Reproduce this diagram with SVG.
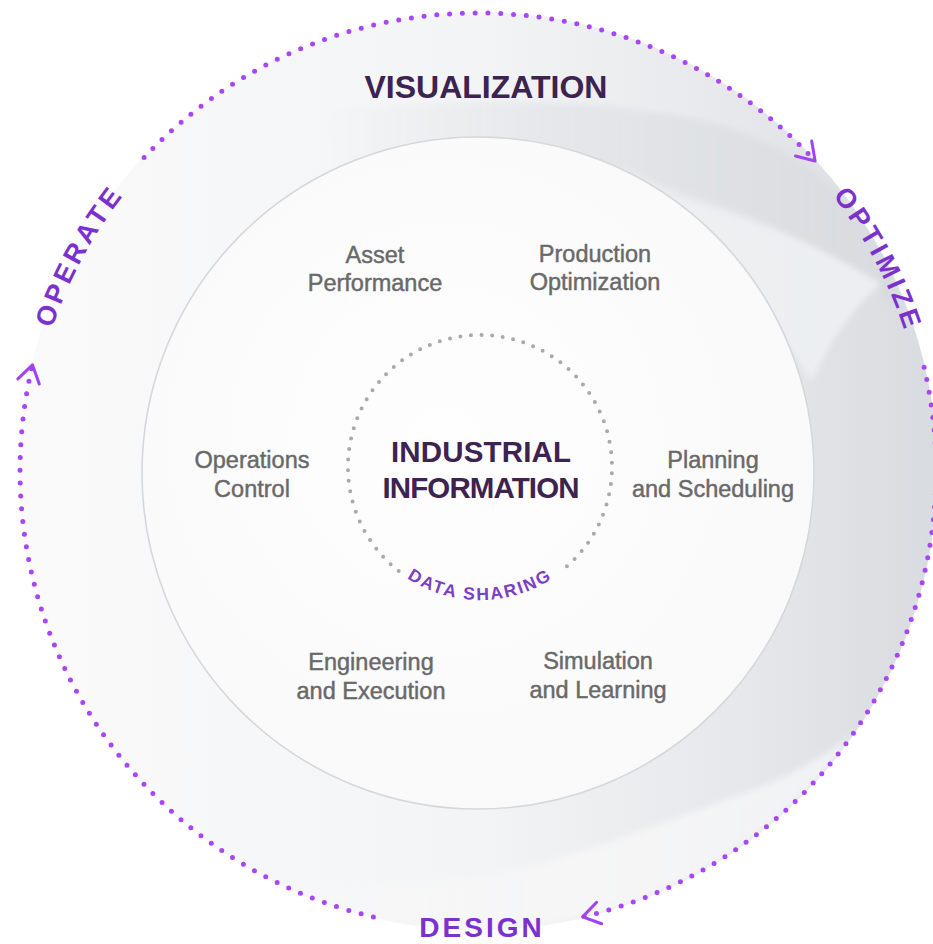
<svg xmlns="http://www.w3.org/2000/svg" width="933" height="944" viewBox="0 0 933 944">
<style>
  .lbl { font-family: "Liberation Sans", Arial, sans-serif; font-size: 23.5px; fill: #696969; stroke: #696969; stroke-width: 0.45px; text-anchor: middle; }
  .head { font-family: "Liberation Sans", Arial, sans-serif; font-weight: bold; fill: #3c2350; text-anchor: middle; }
  .stage { font-family: "Liberation Sans", Arial, sans-serif; font-weight: bold; font-size: 27px; letter-spacing: 3.6px; fill: #7b31cc; }
  .share { font-family: "Liberation Sans", Arial, sans-serif; font-weight: bold; font-size: 17.5px; letter-spacing: 2px; fill: #7b3fc4; }
  .cycle { fill: none; stroke: #a845f7; stroke-width: 5; stroke-linecap: round; stroke-dasharray: 0 12.8; marker-end: url(#chev); }
  .innerdots { fill: none; stroke: #a9a9ab; stroke-width: 4; stroke-linecap: round; stroke-dasharray: 0 10.6; }
</style>
<defs>
  <linearGradient id="ringGrad" gradientUnits="userSpaceOnUse" x1="20" y1="0" x2="936" y2="0">
    <stop offset="0" stop-color="#fafafb"/>
    <stop offset="0.5" stop-color="#f3f4f5"/>
    <stop offset="0.8" stop-color="#e5e7ea"/>
    <stop offset="1" stop-color="#d8dbdf"/>
  </linearGradient>
  <linearGradient id="swooshGrad" gradientUnits="userSpaceOnUse" x1="320" y1="0" x2="890" y2="0">
    <stop offset="0" stop-color="#e4e6e9" stop-opacity="0"/>
    <stop offset="0.4" stop-color="#e4e6e9" stop-opacity="0.85"/>
    <stop offset="1" stop-color="#d8dbdf"/>
  </linearGradient>
  <linearGradient id="hiGrad" gradientUnits="userSpaceOnUse" x1="280" y1="0" x2="860" y2="0">
    <stop offset="0" stop-color="#f8f8f9" stop-opacity="0.3"/>
    <stop offset="0.5" stop-color="#f6f6f7"/>
    <stop offset="1" stop-color="#f1f2f4"/>
  </linearGradient>
  <radialGradient id="discGrad" cx="0.45" cy="0.45" r="0.6">
    <stop offset="0" stop-color="#fefefe"/>
    <stop offset="1" stop-color="#f9f9fa"/>
  </radialGradient>
  <clipPath id="ringClip"><circle cx="478" cy="471" r="459"/></clipPath>
  <filter id="soft" x="-10%" y="-10%" width="120%" height="120%"><feGaussianBlur stdDeviation="3"/></filter>
  <marker id="chev" markerUnits="userSpaceOnUse" markerWidth="30" markerHeight="30" viewBox="-22 -15 30 30" refX="0" refY="0" orient="auto" overflow="visible">
    <path d="M -17,-11 L 0,0 L -17,11" fill="none" stroke="#a242f2" stroke-width="3" stroke-linecap="round" stroke-linejoin="round"/>
  </marker>
  <path id="pOperate" d="M 60.8,637.0 A 449 449 0 0 1 386.9,31.3" fill="none"/>
  <path id="pOptimize" d="M 572.5,32.1 A 449 449 0 0 1 893.9,640.3" fill="none"/>
  <path id="pShare" d="M 347,467 A 133 133 0 0 0 613,467" fill="none"/>
</defs>

<rect width="933" height="944" fill="#ffffff"/>

<g id="ring">
  <circle cx="478" cy="471" r="459" fill="url(#ringGrad)"/>
  <g clip-path="url(#ringClip)">
    <path filter="url(#soft)" d="M 320,112 C 450,96 620,96 730,128 C 800,150 850,195 890,262 C 894,280 896,295 896,308 C 862,274 815,242 750,217 C 690,197 650,182 620,168 C 560,190 420,190 340,175 C 332,150 326,128 320,112 Z" fill="url(#swooshGrad)"/>
    <path filter="url(#soft)" d="M 655,194 C 720,207 800,234 882,284 C 858,302 832,335 812,382 L 760,300 L 655,202 Z" fill="#eef0f2" opacity="0.9"/>
    <path filter="url(#soft)" d="M 853,734 A 458 458 0 0 1 284,886 C 360,882 420,882 470,879 C 560,862 640,832 720,802 C 780,782 820,760 853,734 Z" fill="url(#hiGrad)"/>
  </g>
  <circle cx="478" cy="473" r="336" fill="url(#discGrad)" stroke="#d6d7da" stroke-width="1.6"/>
</g>

<g id="connectors">
  <path class="cycle" d="M 144.1,157.5 A 458 458 0 0 1 815.1,161.0"/>
  <path class="cycle" d="M 924.1,367.2 A 458 458 0 0 1 582.6,916.9"/>
  <path class="cycle" d="M 373.4,916.9 A 458 458 0 0 1 32.5,364.9"/>
</g>

<g id="stage-visualization">
  <text class="head" x="486" y="98" font-size="32">VISUALIZATION</text>
</g>
<g id="stage-operate">
  <text class="stage"><textPath href="#pOperate" startOffset="50%" text-anchor="middle">OPERATE</textPath></text>
</g>
<g id="stage-optimize">
  <text class="stage"><textPath href="#pOptimize" startOffset="50%" text-anchor="middle">OPTIMIZE</textPath></text>
</g>
<g id="stage-design">
  <text class="stage" x="482" y="937" text-anchor="middle" style="font-size:28px;letter-spacing:3px">DESIGN</text>
</g>

<g id="core">
  <path class="innerdots" d="M 398.7,571.0 A 132 132 0 1 1 559.4,572.4"/>
  <text class="head" x="481" y="462" font-size="29.5" textLength="180" lengthAdjust="spacing">INDUSTRIAL</text>
  <text class="head" x="481" y="498" font-size="29.5" textLength="197" lengthAdjust="spacing">INFORMATION</text>
  <text class="share"><textPath href="#pShare" startOffset="50%" text-anchor="middle">DATA SHARING</textPath></text>
</g>

<g id="node-asset-performance">
  <text class="lbl" x="375" y="263">Asset</text>
  <text class="lbl" x="375" y="291">Performance</text>
</g>
<g id="node-production-optimization">
  <text class="lbl" x="595" y="262">Production</text>
  <text class="lbl" x="595" y="290">Optimization</text>
</g>
<g id="node-operations-control">
  <text class="lbl" x="252" y="468">Operations</text>
  <text class="lbl" x="252" y="497">Control</text>
</g>
<g id="node-planning-scheduling">
  <text class="lbl" x="713" y="468">Planning</text>
  <text class="lbl" x="713" y="497">and Scheduling</text>
</g>
<g id="node-engineering-execution">
  <text class="lbl" x="371" y="670">Engineering</text>
  <text class="lbl" x="371" y="699">and Execution</text>
</g>
<g id="node-simulation-learning">
  <text class="lbl" x="598" y="669">Simulation</text>
  <text class="lbl" x="598" y="698">and Learning</text>
</g>
</svg>
